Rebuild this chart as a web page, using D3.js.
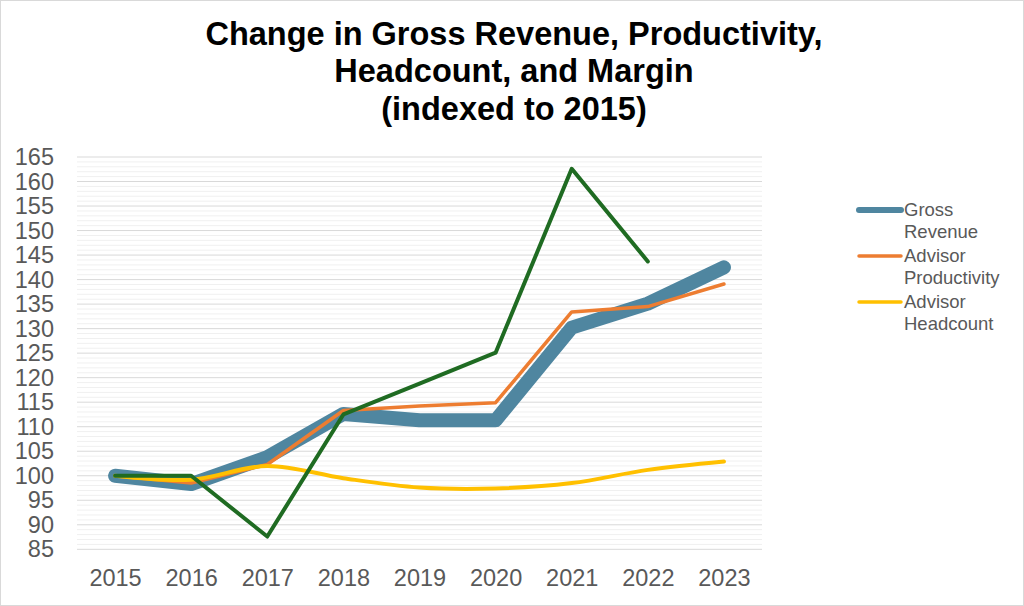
<html>
<head>
<script src="https://d3js.org/d3.v7.min.js"></script>
<style>
body { margin: 0; background: #fff; }
svg { display: block; font-family: "Liberation Sans", Arial, sans-serif; }
</style>
</head>
<body>
<div id="chart"></div>
<script>

// data
var years = ["2015", "2016", "2017", "2018", "2019", "2020", "2021", "2022", "2023"];
var grossRevenue = [100, 98.3, 103.8, 112.6, 111.3, 111.3, 130.2, 135.1, 142.5];
var advisorProductivity = [100, 98.5, 102.3, 113.3, 114.2, 114.9, 133.4, 134.5, 139.1];
var advisorHeadcount = [100, 99.2, 102.0, 99.5, 97.6, 97.4, 98.5, 101.2, 102.9];
var margin = [100, 100, 87.6, 112.5, 118.8, 125.1, 162.6, 143.7, null];
var yTicks = [85, 90, 95, 100, 105, 110, 115, 120, 125, 130, 135, 140, 145, 150, 155, 160, 165];
var titleLines = ["Change in Gross Revenue, Productivity,", "Headcount, and Margin", "(indexed to 2015)"];

var width = 1024;
var height = 606;

var svg = d3.select("#chart").append("svg")
.attr("width", width).attr("height", height);

svg.append("rect")
.attr("x", 0.5).attr("y", 0.5)
.attr("width", width - 1).attr("height", height - 1)
.style("fill", "#fff").style("stroke", "#d9d9d9");

// title
var titleY = [45, 82, 120];
svg.selectAll("text.title").data(titleLines).enter()
.append("text")
.attr("class", "title")
.attr("x", 514)
.attr("y", function (d, i) { return titleY[i]; })
.attr("text-anchor", "middle")
.style("font-size", "32.5px")
.style("font-weight", "bold")
.style("fill", "#000")
.text(function (d) { return d; });

var xScale = d3.scalePoint().domain(years).range([77, 762]).padding(0.5);
var yScale = d3.scaleLinear().domain([85, 165]).range([549.3, 157]);

// gridlines: major every 5, minor every 1
var grid = svg.append("g").attr("class", "grid");
grid.selectAll("line").data(d3.range(85, 166, 1)).enter()
.append("line")
.attr("x1", 77).attr("x2", 762)
.attr("y1", function (d) { return yScale(d); })
.attr("y2", function (d) { return yScale(d); })
.style("stroke", function (d) { return d % 5 == 0 ? "#d9d9d9" : "#f0f0f0"; })
.style("stroke-width", 1);

// axes, only labels shown
var yAxis = d3.axisLeft(yScale).tickValues(yTicks).tickSize(0).tickPadding(0);
var yg = svg.append("g").attr("transform", "translate(54,0)").call(yAxis);
yg.select(".domain").remove();
yg.selectAll("text").style("font-size", "23.5px").style("fill", "#595959")
.style("font-family", "Liberation Sans, Arial, sans-serif");

var xAxis = d3.axisBottom(xScale).tickSize(0).tickPadding(0);
var xg = svg.append("g").attr("transform", "translate(0,569)").call(xAxis);
xg.select(".domain").remove();
xg.selectAll("text").style("font-size", "23.5px").style("fill", "#595959")
.style("font-family", "Liberation Sans, Arial, sans-serif");

var series = [
	{ name: "Gross Revenue", values: grossRevenue, color: "#4f86a0", width: 14, curve: d3.curveLinear, legend: ["Gross", "Revenue"], legendWidth: 6 },
	{ name: "Advisor Productivity", values: advisorProductivity, color: "#ed7d31", width: 3.5, curve: d3.curveLinear, legend: ["Advisor", "Productivity"], legendWidth: 3.5 },
	{ name: "Advisor Headcount", values: advisorHeadcount, color: "#ffc000", width: 4, curve: d3.curveCatmullRom.alpha(0.5), legend: ["Advisor", "Headcount"], legendWidth: 3.5 },
	{ name: "Margin", values: margin, color: "#1f6b22", width: 4, curve: d3.curveLinear, legend: null }
];

series.forEach(function (s) {
	var line = d3.line()
	.defined(function (d) { return d != null; })
	.x(function (d, i) { return xScale(years[i]); })
	.y(function (d) { return yScale(d); })
	.curve(s.curve);

	svg.append("path")
	.datum(s.values)
	.attr("d", line)
	.style("fill", "none")
	.style("stroke", s.color)
	.style("stroke-width", s.width)
	.style("stroke-linecap", "round")
	.style("stroke-linejoin", "round");
});

// legend (margin series has no entry)
var legend = svg.append("g").attr("class", "legend");
series.filter(function (s) { return s.legend; }).forEach(function (s, i) {
	var y = 210 + i * 46;
	legend.append("line")
	.attr("x1", 859).attr("x2", 901)
	.attr("y1", y).attr("y2", y)
	.style("stroke", s.color)
	.style("stroke-width", s.legendWidth)
	.style("stroke-linecap", "round");
	var t = legend.append("text")
	.attr("x", 904).attr("y", y + 6)
	.style("font-size", "18.5px")
	.style("fill", "#595959");
	t.selectAll("tspan").data(s.legend).enter()
	.append("tspan")
	.attr("x", 904)
	.attr("dy", function (d, j) { return j == 0 ? 0 : 21.5; })
	.text(function (d) { return d; });
});

</script>
</body>
</html>
